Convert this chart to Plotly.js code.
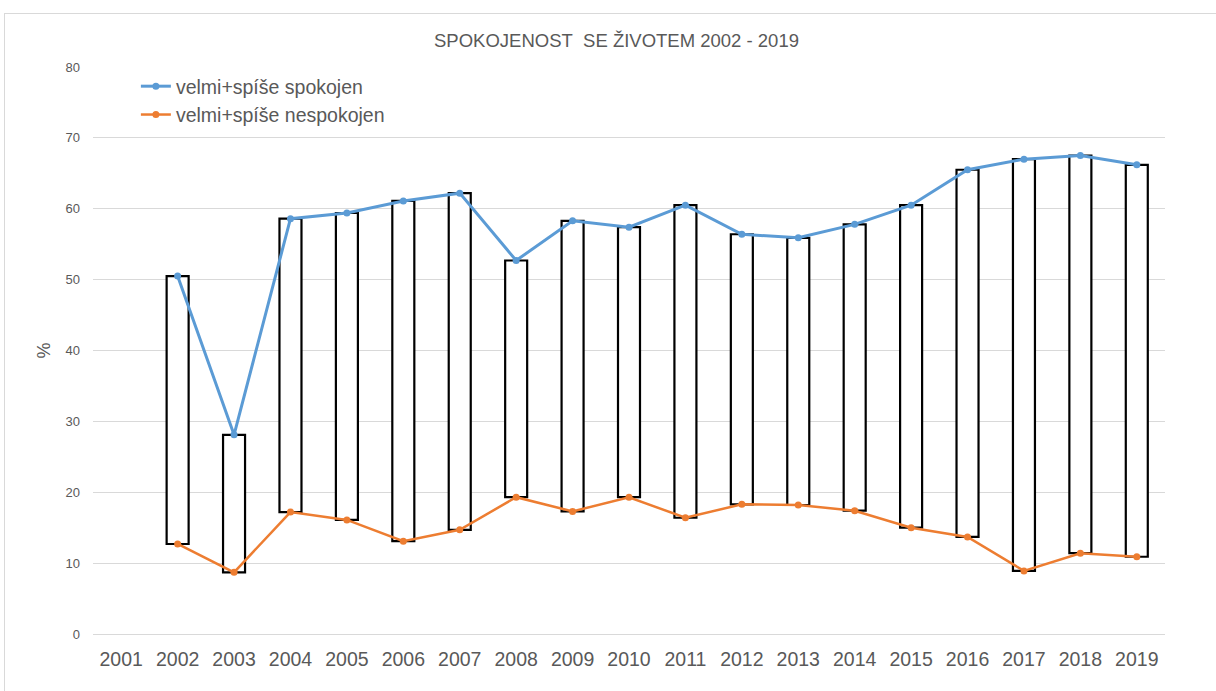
<!DOCTYPE html>
<html>
<head>
<meta charset="utf-8">
<script src="https://cdn.plot.ly/plotly-3.0.1.min.js"></script>
<style>
  html, body { margin: 0; padding: 0; background: #ffffff; }
  #chart { width: 1216px; height: 691px; }
  #frame { position: absolute; left: 4px; top: 13px; width: 1230px; height: 700px;
           border: 1px solid #d9d9d9; pointer-events: none; }
</style>
</head>
<body>
<div id="chart"></div>
<div id="frame"></div>
<script>
const years = ["2001","2002","2003","2004","2005","2006","2007","2008","2009","2010",
               "2011","2012","2013","2014","2015","2016","2017","2018","2019"];
const spokojen = [null, 50.5, 28.1, 58.6, 59.4, 61.1, 62.2, 52.7, 58.3, 57.4,
                  60.5, 56.4, 55.9, 57.8, 60.5, 65.5, 67.0, 67.5, 66.2];
const nespokojen = [null, 12.7, 8.7, 17.2, 16.1, 13.1, 14.7, 19.3, 17.3, 19.3,
                    16.4, 18.3, 18.2, 17.4, 15.0, 13.7, 8.9, 11.4, 10.9];
const seriesNames = ["velmi+spíše spokojen", "velmi+spíše nespokojen"];
const yTicks = [0, 10, 20, 30, 40, 50, 60, 70, 80];

const boxHeights = spokojen.map((v, i) => (v === null || nespokojen[i] === null) ? null : v - nespokojen[i]);

const traces = [
  {
    type: "bar",
    x: years,
    y: boxHeights,
    base: nespokojen,
    width: 0.39,
    marker: { color: "#ffffff", line: { color: "#000000", width: 2.2 } },
    showlegend: false,
    hoverinfo: "skip"
  },
  {
    type: "scatter",
    mode: "lines+markers",
    name: seriesNames[0],
    x: years,
    y: spokojen,
    line: { color: "#5B9BD5", width: 3 },
    marker: { color: "#5B9BD5", size: 7 }
  },
  {
    type: "scatter",
    mode: "lines+markers",
    name: seriesNames[1],
    x: years,
    y: nespokojen,
    line: { color: "#ED7D31", width: 2.5 },
    marker: { color: "#ED7D31", size: 7 }
  }
];

const layout = {
  width: 1216,
  height: 691,
  margin: { l: 93, r: 51, t: 67, b: 57 },
  paper_bgcolor: "#ffffff",
  plot_bgcolor: "#ffffff",
  font: { family: "Liberation Sans, Arial, sans-serif", color: "#595959" },
  title: {
    text: "SPOKOJENOST\u00a0 SE ŽIVOTEM 2002 - 2019",
    font: { size: 18.5, color: "#595959" },
    x: 0.507, xanchor: "center",
    y: 0.942, yanchor: "middle"
  },
  showlegend: true,
  legend: {
    x: 0.04, y: 1.0, xanchor: "left", yanchor: "top",
    bgcolor: "rgba(0,0,0,0)",
    font: { size: 19.5, color: "#595959" },
    tracegroupgap: 0
  },
  xaxis: {
    type: "category",
    categoryorder: "array",
    categoryarray: years,
    range: [-0.5, 18.5],
    showgrid: false,
    zeroline: false,
    showline: false,
    ticks: "",
    tickfont: { size: 19.5, color: "#595959" },
    ticklabelstandoff: 11
  },
  yaxis: {
    range: [0, 80],
    tickvals: yTicks,
    ticktext: yTicks.map(String),
    showgrid: true,
    gridcolor: "#d9d9d9",
    gridwidth: 1,
    zeroline: true,
    zerolinecolor: "#d9d9d9",
    zerolinewidth: 1,
    showline: false,
    ticks: "",
    tickfont: { size: 13, color: "#595959" },
    ticklabelstandoff: 12,
    title: { text: "%", font: { size: 18, color: "#595959" }, standoff: 10 }
  },
  bargap: 0.6
};

Plotly.newPlot("chart", traces, layout, { staticPlot: true, displayModeBar: false });
</script>
</body>
</html>
